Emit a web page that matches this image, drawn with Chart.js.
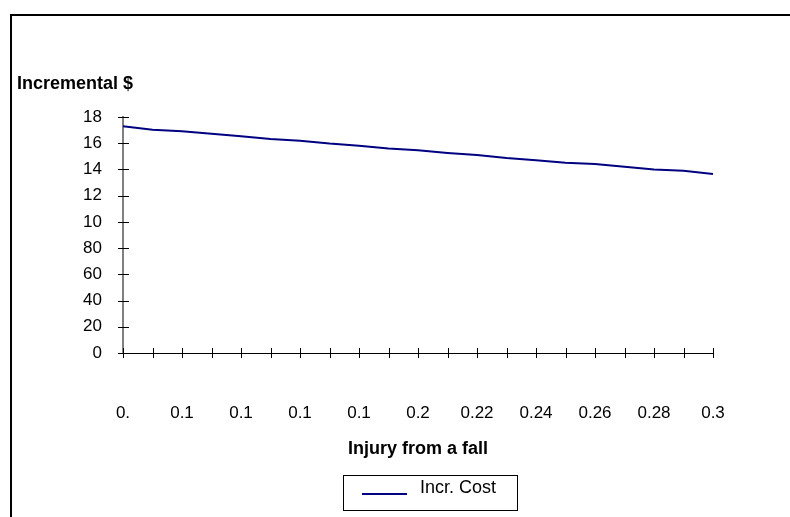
<!DOCTYPE html>
<html>
<head>
<meta charset="utf-8">
<script src="https://cdn.jsdelivr.net/npm/chart.js@4/dist/chart.umd.min.js"></script>
<style>
  html, body { margin: 0; padding: 0; background: #fff; }
  #wrap { width: 790px; height: 517px; position: relative; }
</style>
</head>
<body>
<div id="wrap"><canvas id="incrCostChart"></canvas></div>
<script>
// categories (probability of injury from a fall) and the incremental cost series
var categories = ['0.10', '0.11', '0.12', '0.13', '0.14', '0.15', '0.16', '0.17', '0.18', '0.19', '0.20',
                  '0.21', '0.22', '0.23', '0.24', '0.25', '0.26', '0.27', '0.28', '0.29', '0.30'];
var incrCost = [173.0, 170.2, 169.2, 167.2, 165.4, 163.2, 161.9, 159.7, 158.1, 155.9, 154.6,
                152.6, 151.1, 148.8, 147.1, 145.1, 144.1, 142.0, 140.0, 139.0, 136.5];
// tick labels as they appear (truncated) in the original
var xTickLabels = ['0.', '0.1', '0.1', '0.1', '0.1', '0.2', '0.22', '0.24', '0.26', '0.28', '0.3'];
var yTickLabels = ['0', '20', '40', '60', '80', '10', '12', '14', '16', '18'];

var FONT = 'Arial, "Liberation Sans", sans-serif';

// frame, y title, tick marks and legend box
var decoPlugin = {
    id: 'deco',
    afterDraw: function (chart) {
        var ctx = chart.ctx;
        var xs = chart.scales.x, ys = chart.scales.y;
        var area = chart.chartArea;
        ctx.save();
        // outer frame (left + top only visible)
        ctx.strokeStyle = '#000';
        ctx.lineWidth = 2;
        ctx.beginPath();
        ctx.moveTo(11, 517);
        ctx.lineTo(11, 15);
        ctx.lineTo(790, 15);
        ctx.stroke();

        // tick marks crossing the axes
        ctx.lineWidth = 1;
        ctx.strokeStyle = '#000';
        ctx.beginPath();
        for (var i = 0; i < xs.ticks.length; i++) {
            var px = Math.round(xs.getPixelForTick(i)) + 0.5;
            ctx.moveTo(px, area.bottom - 5);
            ctx.lineTo(px, area.bottom + 5);
        }
        for (var j = 0; j < ys.ticks.length; j++) {
            var py = Math.round(ys.getPixelForTick(j)) + 0.5;
            ctx.moveTo(area.left - 5, py);
            ctx.lineTo(area.left + 6, py);
        }
        ctx.stroke();

        // y axis title
        ctx.fillStyle = '#000';
        ctx.font = 'bold 18px ' + FONT;
        ctx.textBaseline = 'middle';
        ctx.textAlign = 'left';
        ctx.fillText('Incremental $', 17, 84);

        // legend
        var ds = chart.data.datasets[0];
        ctx.strokeStyle = '#000';
        ctx.lineWidth = 1;
        ctx.strokeRect(343.5, 475.5, 174, 35);
        ctx.strokeStyle = ds.borderColor;
        ctx.lineWidth = 2;
        ctx.beginPath();
        ctx.moveTo(362, 494);
        ctx.lineTo(407, 494);
        ctx.stroke();
        ctx.font = '18px ' + FONT;
        ctx.fillText(ds.label, 420, 488);
        ctx.restore();
    }
};

var ctx = document.getElementById('incrCostChart').getContext('2d');
var incrCostChart = new Chart(ctx, {
    type: 'line',
    data: {
        labels: categories,
        datasets: [{
            label: 'Incr. Cost',
            data: incrCost,
            borderColor: '#000080',
            borderWidth: 2,
            pointRadius: 0,
            fill: false,
            tension: 0
        }]
    },
    options: {
        responsive: true,
        maintainAspectRatio: false,
        animation: false,
        layout: {
            padding: { left: 17, right: 77, top: 117, bottom: 57 }
        },
        plugins: {
            legend: { display: false },
            tooltip: { enabled: false }
        },
        scales: {
            x: {
                type: 'category',
                offset: false,
                grid: { display: false, drawTicks: false },
                border: { display: true, color: '#000', width: 1 },
                ticks: {
                    autoSkip: false,
                    maxRotation: 0,
                    padding: 50,
                    color: '#000',
                    font: { family: FONT, size: 17 },
                    callback: function (v, i) {
                        return i % 2 === 0 ? xTickLabels[i / 2] : '';
                    }
                },
                title: {
                    display: true,
                    text: 'Injury from a fall',
                    color: '#000',
                    font: { family: FONT, size: 18, weight: 'bold' },
                    padding: 0
                },
                afterFit: function (scale) { scale.height = 107; }
            },
            y: {
                min: 0,
                max: 180,
                grid: { display: false, drawTicks: false },
                border: { display: true, color: '#808080', width: 2 },
                ticks: {
                    stepSize: 20,
                    padding: 21,
                    color: '#000',
                    font: { family: FONT, size: 17 },
                    callback: function (v, i) { return yTickLabels[i]; }
                },
                afterFit: function (scale) { scale.width = 106; }
            }
        }
    },
    plugins: [decoPlugin]
});
</script>
</body>
</html>
